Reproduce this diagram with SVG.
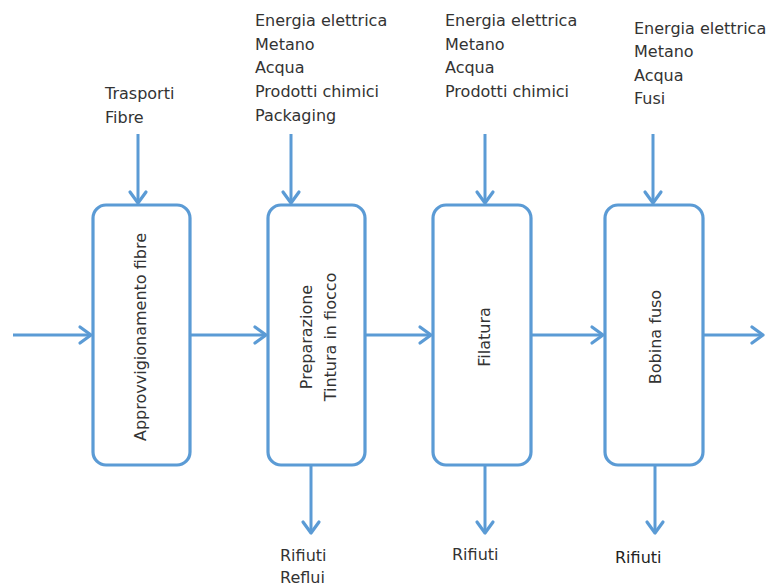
<svg xmlns="http://www.w3.org/2000/svg" width="769" height="586" viewBox="0 0 769 586">
<style>
.box{fill:#ffffff;stroke:#5b9bd5;stroke-width:3.2}
.con{stroke:#5b9bd5;stroke-width:3;fill:none;marker-end:url(#ah)}
.t{font-family:"DejaVu Sans",sans-serif;font-size:16px;fill:#333333}
.r{text-anchor:middle}
</style>
<defs>
<marker id="ah" markerUnits="userSpaceOnUse" markerWidth="24" markerHeight="24" viewBox="-14 -12 16 24" refX="0" refY="0" orient="auto">
<path d="M-11,-8 L0,0 L-11,8" fill="none" stroke="#5b9bd5" stroke-width="3.2" stroke-linecap="round" stroke-linejoin="round"/>
</marker>
</defs>
<rect width="769" height="586" fill="#ffffff"/>
<g id="connectors">
<line class="con" x1="13" y1="335" x2="91" y2="335"/>
<line class="con" x1="190" y1="335" x2="266" y2="335"/>
<line class="con" x1="365" y1="335" x2="431" y2="335"/>
<line class="con" x1="531" y1="335" x2="603" y2="335"/>
<line class="con" x1="703" y1="335" x2="763" y2="335"/>
<line class="con" x1="138" y1="134" x2="138" y2="203"/>
<line class="con" x1="291" y1="134" x2="291" y2="203"/>
<line class="con" x1="485" y1="134" x2="485" y2="203"/>
<line class="con" x1="653" y1="134" x2="653" y2="203"/>
<line class="con" x1="311" y1="466" x2="311" y2="533"/>
<line class="con" x1="485" y1="466" x2="485" y2="533"/>
<line class="con" x1="655" y1="466" x2="655" y2="533"/>
</g>
<g id="node-approvvigionamento">
<rect class="box" x="93" y="205" width="97" height="260" rx="13"/>
<text class="t r" transform="translate(146,337) rotate(-90)">Approvvigionamento fibre</text>
</g>
<g id="node-preparazione">
<rect class="box" x="268" y="205" width="97" height="260" rx="13"/>
<text class="t r" transform="translate(312,337) rotate(-90)">Preparazione</text>
<text class="t r" transform="translate(336,337) rotate(-90)">Tintura in fiocco</text>
</g>
<g id="node-filatura">
<rect class="box" x="433" y="205" width="98" height="260" rx="13"/>
<text class="t r" transform="translate(490,337) rotate(-90)">Filatura</text>
</g>
<g id="node-bobina">
<rect class="box" x="605" y="205" width="98" height="260" rx="13"/>
<text class="t r" transform="translate(661,337) rotate(-90)">Bobina fuso</text>
</g>
<g id="labels">
<text class="t" x="105" y="99">Trasporti</text>
<text class="t" x="105" y="123">Fibre</text>
<text class="t" x="255" y="26">Energia elettrica</text>
<text class="t" x="255" y="50">Metano</text>
<text class="t" x="255" y="73">Acqua</text>
<text class="t" x="255" y="97">Prodotti chimici</text>
<text class="t" x="255" y="121">Packaging</text>
<text class="t" x="445" y="26">Energia elettrica</text>
<text class="t" x="445" y="50">Metano</text>
<text class="t" x="445" y="73">Acqua</text>
<text class="t" x="445" y="97">Prodotti chimici</text>
<text class="t" x="634" y="34">Energia elettrica</text>
<text class="t" x="634" y="57">Metano</text>
<text class="t" x="634" y="81">Acqua</text>
<text class="t" x="634" y="104">Fusi</text>
<text class="t" x="280" y="561">Rifiuti</text>
<text class="t" x="280" y="583">Reflui</text>
<text class="t" x="452" y="560">Rifiuti</text>
<text class="t" x="615" y="563" style="fill:#222222">Rifiuti</text>
</g>
</svg>
